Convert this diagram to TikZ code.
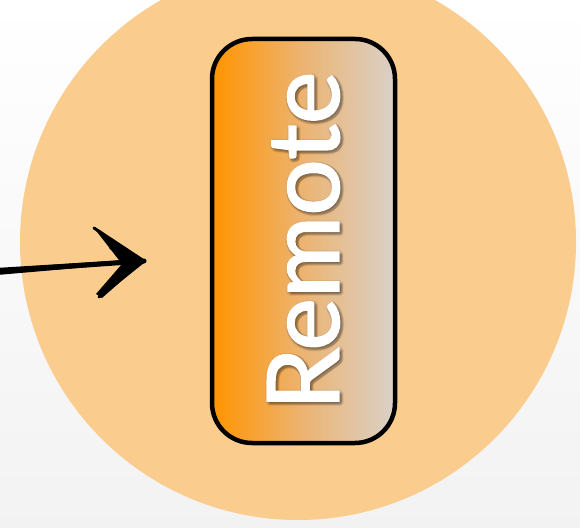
\documentclass[tikz,border=0pt]{standalone}
\usepackage{fontspec}
\setmainfont{Lato}
\newfontfamily\remotefont[FakeBold=1.6]{Lato}
\definecolor{peach}{RGB}{250,204,142}
\definecolor{remoteorange}{RGB}{255,148,0}
\definecolor{remotemid}{RGB}{236,180,115}
\definecolor{remotegray}{RGB}{217,209,201}
\begin{document}
\begin{tikzpicture}
[x=1pt,y=1pt,
backdrop/.style={top color=white,bottom color=black!5},
zone/.style={fill=peach},
remotebox/.style={draw=black,line width=4.5pt,rounded corners=40pt,
  left color=remoteorange,right color=remotegray,middle color=remotemid,
  minimum width=183pt,minimum height=404pt},
remotelabel/.style={rotate=90,text=white,inner sep=0pt,
  font=\remotefont\fontsize{100}{110}\selectfont},
sketch/.style={line width=3pt,line cap=round}]
\useasboundingbox (0,0) rectangle (580,527);
\shade[backdrop] (0,0) rectangle (580,527);
\fill[zone] (298,285) circle (278);
% the box
\node[remotebox] (remote) at (303.5,286) {};
\foreach \dx/\dy in {2/-2,3/-3,1/-1,3/0,0/-3,4/-2,2/-4,-1/-1,1/1}
  \node[remotelabel,text=black,opacity=.06] at ([shift={(\dx,\dy)}]remote.center) {Remote};
\node[remotelabel] (name) at (remote.center) {Remote};
% sketchy arrow
\coordinate (src) at (0,256);
\coordinate (tip) at (144,266);
\draw[sketch,line width=5pt] (src) -- (tip);
\draw[sketch,line width=1.5pt] ([yshift=2.5pt]src) -- ([shift={(-6,1)}]tip);
\draw[sketch,line width=1.5pt] ([yshift=-3pt]src) -- ([shift={(-6,-1)}]tip);
\fill (94,299) -- (99,297) -- (tip) -- (102,229) -- (96,233) -- (122,263) -- cycle;
\draw[sketch] (94,299) -- (tip) -- (99,230);
\draw[sketch,line width=6pt] (112,280) -- ([xshift=-4pt]tip) -- (114,248);
\end{tikzpicture}
\end{document}
